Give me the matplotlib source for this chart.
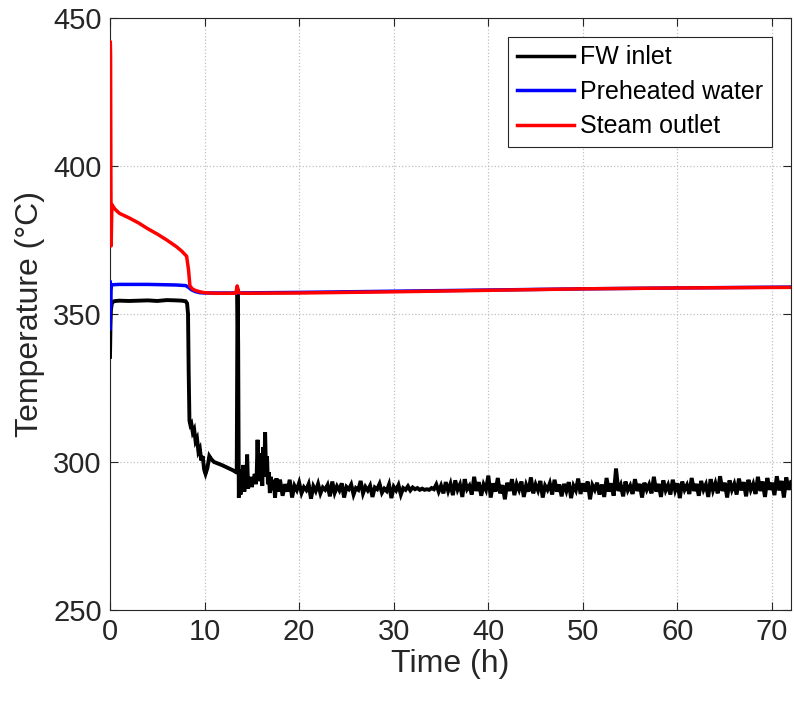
import numpy as np
import matplotlib
matplotlib.use("Agg")
import matplotlib.pyplot as plt

plt.rcParams['font.family'] = ['Liberation Sans', 'DejaVu Sans']

# ---------------- data ----------------
# FW inlet: start-up and transition section
fw_t_early = [0.0, 0.05, 0.1, 0.2, 0.3, 0.6, 1.0, 2.0, 3.0, 4.0, 5.0, 6.0, 7.0, 7.6, 8.0,
              8.15, 8.25, 8.32, 8.4, 8.5, 8.6, 8.75, 8.9, 9.05, 9.2, 9.35, 9.5, 9.65,
              9.8, 9.95, 10.1, 10.3, 10.5, 10.7, 11.0, 11.4, 11.8, 12.2, 12.6, 13.0,
              13.3, 13.4, 13.48, 13.55, 13.62,
              13.7, 13.8, 13.9, 14.0, 14.1, 14.2, 14.3, 14.4, 14.5, 14.6, 14.7, 14.8,
              14.9, 15.0, 15.1, 15.2, 15.3, 15.4, 15.5, 15.6, 15.7, 15.8, 15.9, 16.0,
              16.1, 16.2, 16.3, 16.4, 16.5, 16.6, 16.7, 16.8, 16.9, 17.0, 17.15, 17.3,
              17.45, 17.6, 17.75, 17.9]
fw_v_early = [335.5, 346.0, 351.5, 353.6, 354.2, 354.4, 354.5, 354.4, 354.5, 354.6, 354.4, 354.7, 354.6, 354.5, 354.3,
              353.6, 350.0, 330.0, 314.0, 312.5, 313.0, 310.0, 311.0, 307.0, 308.0, 303.5, 304.5, 300.5,
              302.0, 297.5, 296.0, 298.0, 302.0, 301.0, 300.0, 299.5, 299.0, 298.4, 297.8, 297.2,
              296.6, 297.0, 358.5, 340.0, 288.0,
              296.0, 289.0, 297.5, 291.5, 299.0, 290.0, 294.0, 292.0, 302.5, 291.0, 294.5, 293.0,
              295.0, 291.5, 294.0, 293.0, 296.0, 292.5, 294.5, 307.5, 295.0, 303.0, 293.5, 300.0,
              292.0, 305.0, 295.0, 310.0, 296.0, 302.0, 292.5, 296.5, 289.5, 295.0, 290.5, 294.0,
              288.0, 294.5, 290.0, 293.5]

# FW inlet: quasi-steady section, sampled every 0.25 h from 18 h to 72 h
fw_steady_start = 18.0
fw_steady_step = 0.25
fw_v_steady = [
    293.5, 288.6, 292.5, 290.0, 294.0, 288.0, 292.0, 290.5, 293.0, 289.5, 291.5, 290.5,
    292.5, 287.6, 291.8, 290.2, 292.6, 289.4, 291.4, 290.6, 292.2, 288.4, 293.4, 289.6,
    291.8, 290.4, 292.8, 288.0, 291.6, 290.8, 292.4, 289.0, 291.2, 290.6, 293.6, 289.4,
    291.6, 290.4, 292.0, 288.2, 291.4, 290.8, 292.6, 289.6, 291.0, 290.2, 292.4, 287.8,
    291.6, 290.4, 292.2, 289.0, 291.2, 290.6, 291.8, 290.4, 291.4, 290.8, 291.2, 290.6,
    291.0, 290.6, 290.8, 290.6, 291.2, 290.8, 292.4, 290.0, 292.0, 289.4, 293.2, 290.2,
    292.6, 288.8, 293.8, 290.6, 292.4, 288.2, 294.2, 290.8, 292.0, 289.0, 295.0, 290.2,
    293.2, 288.6, 292.4, 290.6, 295.4, 288.0, 292.8, 290.0, 294.6, 289.4, 292.2, 287.4,
    293.0, 290.2, 294.2, 288.8, 292.6, 290.6, 293.4, 288.2, 292.2, 290.0, 294.8, 289.4,
    292.4, 290.4, 293.6, 288.0, 292.0, 290.6, 292.8, 289.0, 294.0, 290.0, 292.4, 288.4,
    292.6, 290.2, 293.2, 287.8, 292.0, 290.4, 294.4, 289.2, 292.8, 290.0, 293.4, 287.4,
    292.2, 290.6, 293.0, 289.0, 292.4, 288.2, 294.6, 290.0, 292.8, 288.6, 297.8, 290.2,
    292.2, 288.4, 293.4, 290.4, 292.0, 289.2, 294.2, 290.2, 292.6, 288.0, 293.0, 290.6,
    292.4, 289.4, 295.0, 290.0, 292.6, 288.2, 293.8, 290.4, 292.2, 289.0, 294.0, 290.4,
    292.8, 287.8, 293.4, 290.6, 292.2, 289.2, 294.6, 290.2, 292.6, 288.6, 293.6, 290.6,
    292.4, 288.2, 294.2, 290.4, 292.8, 289.4, 295.2, 290.2, 293.0, 288.0, 293.8, 290.6,
    292.6, 289.0, 294.4, 290.4, 293.2, 288.4, 294.0, 290.6, 292.6, 289.2, 295.0, 290.2,
    293.4, 288.2, 294.6, 290.6, 293.0, 288.8, 295.2, 290.4, 293.6, 288.0, 294.8, 290.6,
    293.2,
]

# Preheated water
pw_t = [0.0, 0.03, 0.06, 0.1, 0.15, 0.3, 1.0, 4.0, 7.0, 8.0, 8.3, 8.6, 9.0, 9.5, 10.0,
        13.0, 20.0, 30.0, 40.0, 50.0, 60.0, 72.0]
pw_v = [345.0, 361.0, 352.0, 358.0, 359.6, 359.9, 360.0, 360.0, 359.8, 359.6, 359.0, 358.2,
        357.6, 357.2, 357.1, 357.1, 357.3, 357.7, 358.1, 358.5, 358.8, 359.1]

# Steam outlet
so_t = [0.0, 0.03, 0.06, 0.09, 0.12, 0.2, 0.5, 1.0, 2.0, 3.0, 4.0, 5.0, 6.0, 7.0, 7.6,
        8.1, 8.3, 8.45, 8.7, 9.0, 9.5, 10.0, 11.0, 12.0, 13.3, 13.45, 13.6, 14.0,
        20.0, 30.0, 40.0, 50.0, 60.0, 72.0]
so_v = [380.0, 442.0, 438.0, 400.0, 373.0, 387.0, 385.5, 384.0, 382.5, 380.8, 378.8, 377.0,
        375.0, 372.8, 371.2, 369.5, 365.0, 359.5, 358.5, 358.0, 357.5, 357.2, 357.0, 357.0,
        357.0, 359.5, 357.3, 357.0, 357.1, 357.5, 358.0, 358.5, 358.8, 359.0]

labels = ["FW inlet", "Preheated water", "Steam outlet"]
x_ticks = [0, 10, 20, 30, 40, 50, 60, 70]
y_ticks = [250, 300, 350, 400, 450]

# ---------------- build FW series ----------------
fw_t_steady = fw_steady_start + fw_steady_step * np.arange(len(fw_v_steady))
fw_t = np.concatenate([fw_t_early, fw_t_steady])
fw_v = np.concatenate([fw_v_early, fw_v_steady])

# ---------------- plot ----------------
fig = plt.figure(figsize=(7.94, 7.02), dpi=100)
ax = fig.add_axes([110 / 794, 92 / 702, 681 / 794, 592 / 702])

lw = 2.5
ax.plot(fw_t, fw_v, color='black', lw=2.8, label=labels[0], zorder=3,
        solid_joinstyle='miter')
ax.plot(pw_t, pw_v, color='#0000ff', lw=lw, label=labels[1], zorder=4)
ax.plot(so_t, so_v, color='#ff0000', lw=lw, label=labels[2], zorder=5)

ax.set_xlim(0, 72)
ax.set_ylim(250, 450)
ax.set_xticks(x_ticks)
ax.set_yticks(y_ticks)
ax.grid(True, color='#c0c0c0', linestyle=':', linewidth=0.9)
ax.tick_params(direction='in', top=True, right=True, labelsize=21, length=6,
               width=0.8, color='#262626', pad=6, labelcolor='#262626')
for s in ax.spines.values():
    s.set_linewidth(0.8)
    s.set_color('#262626')

ax.set_xlabel("Time (h)", fontsize=23, color='#262626', labelpad=2)
ax.set_ylabel("Temperature (°C)", fontsize=23, color='#262626', labelpad=6)

leg = ax.legend(loc='upper right', fontsize=18, frameon=True, fancybox=False,
                edgecolor='#262626', framealpha=1, handlelength=2.3,
                handletextpad=0.25, labelspacing=0.42, borderpad=0.35,
                borderaxespad=0.75)
leg.get_frame().set_linewidth(0.8)
for h in leg.get_lines():
    h.set_linewidth(2.5)

fig.savefig("out.png", dpi=100)
